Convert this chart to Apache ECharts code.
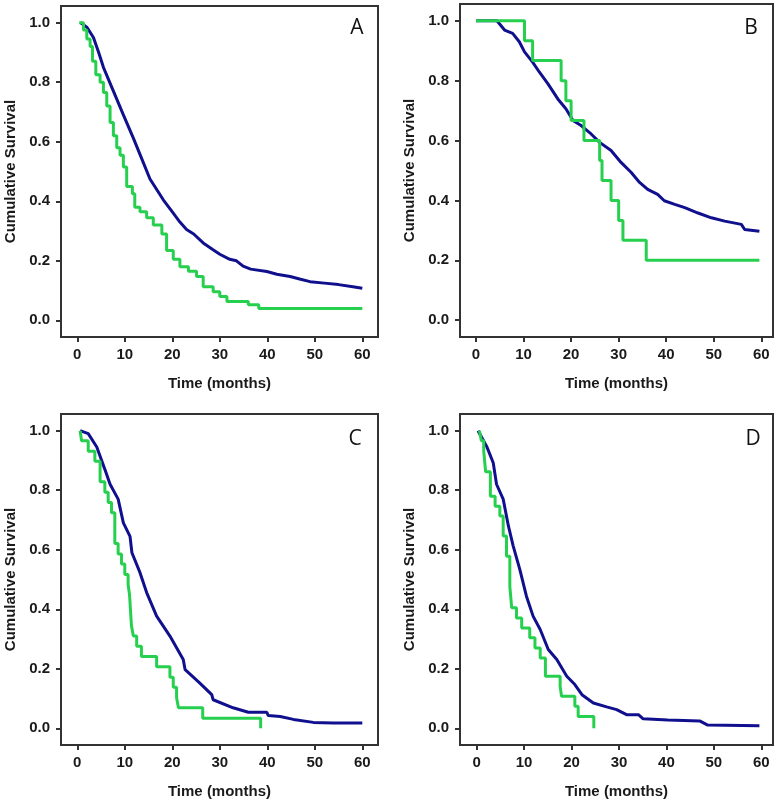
<!DOCTYPE html>
<html>
<head>
<meta charset="utf-8">
<script src="https://cdn.jsdelivr.net/npm/echarts@6/dist/echarts.min.js"></script>
<style>
  html, body { margin: 0; padding: 0; background: #fff; }
  #main { width: 782px; height: 804px; }
</style>
</head>
<body>
<div id="main"></div>
<script>
// survival curves: [time (months), cumulative survival]
const aBlue = [[0.7,1.0],[2.0,0.985],[3.4,0.95],[4.5,0.9],[5.5,0.85],[7.6,0.77],[9.7,0.69],[11.8,0.612],[13.9,0.53],[15.3,0.475],[18.1,0.405],[20.2,0.36],[21.6,0.33],[23.0,0.305],[24.5,0.29],[26.5,0.26],[28.5,0.238],[30.0,0.222],[32.1,0.205],[33.5,0.2],[34.9,0.182],[36.5,0.172],[39.9,0.164],[42,0.155],[44.8,0.147],[47,0.138],[49,0.13],[52,0.125],[55,0.12],[58,0.113],[60,0.108]];
const aGreen = [[0.4,1.0],[1.3,0.975],[2.0,0.945],[2.7,0.92],[3.2,0.87],[3.9,0.825],[4.8,0.80],[5.5,0.765],[6.2,0.72],[6.9,0.665],[7.6,0.62],[8.3,0.58],[9.0,0.555],[9.7,0.515],[10.4,0.45],[11.6,0.425],[12.1,0.38],[13.2,0.365],[14.6,0.345],[16.0,0.32],[17.8,0.29],[18.8,0.235],[20.2,0.205],[21.6,0.18],[23.4,0.165],[25.1,0.147],[26.5,0.113],[28.6,0.096],[30.0,0.08],[31.5,0.063],[36.0,0.052],[38.2,0.04],[60,0.04]];

const bBlue = [[0,1.0],[4.4,1.0],[6.0,0.969],[7.7,0.958],[9.1,0.93],[10.2,0.896],[11.9,0.862],[13.3,0.829],[15.1,0.79],[17.2,0.739],[18.9,0.706],[20.4,0.667],[22.1,0.65],[24.2,0.622],[26.0,0.594],[28.4,0.567],[30.5,0.527],[32.6,0.494],[34.4,0.46],[36.1,0.437],[38.2,0.42],[39.6,0.399],[41.8,0.387],[43.9,0.376],[46.7,0.358],[49.5,0.342],[52.3,0.331],[55.8,0.32],[56.5,0.303],[59.6,0.297]];
const bGreen = [[0,1.0],[10.2,0.933],[11.9,0.867],[17.9,0.8],[18.9,0.733],[20.0,0.667],[22.7,0.6],[26.0,0.533],[26.5,0.467],[28.4,0.4],[30.0,0.333],[30.9,0.267],[35.8,0.2],[59.6,0.2]];

const cBlue = [[0.6,1.0],[2.3,0.99],[4.1,0.945],[5.8,0.87],[6.9,0.82],[8.6,0.77],[9.7,0.69],[11.1,0.645],[11.5,0.59],[13.2,0.523],[14.6,0.456],[16.7,0.377],[19.5,0.31],[22.3,0.231],[22.7,0.197],[25.8,0.152],[28.3,0.113],[28.6,0.096],[32.8,0.069],[36.0,0.054],[39.9,0.054],[40.2,0.043],[42.7,0.04],[45.5,0.03],[49.7,0.02],[53.9,0.018],[60,0.018]];
const cGreen = [[0.6,1.0],[0.9,0.966],[2.3,0.931],[3.7,0.897],[4.8,0.828],[5.8,0.793],[6.5,0.759],[7.2,0.724],[7.9,0.621],[8.6,0.586],[9.3,0.552],[10.0,0.517],[10.7,0.483],[11.0,0.448],[11.4,0.345],[11.8,0.31],[12.5,0.276],[13.5,0.241],[16.7,0.207],[19.5,0.172],[20.2,0.138],[20.9,0.103],[21.3,0.069],[26.4,0.034],[38.6,0.0]];

const dBlue = [[0.3,1.0],[2.1,0.948],[3.5,0.892],[4.2,0.82],[5.6,0.77],[6.7,0.68],[7.7,0.613],[9.1,0.534],[10.5,0.444],[11.9,0.377],[13.4,0.332],[15.1,0.265],[16.9,0.231],[19.0,0.175],[20.7,0.147],[22.2,0.113],[24.6,0.085],[27.4,0.072],[29.5,0.063],[31.6,0.046],[34.1,0.046],[35.1,0.032],[40.3,0.028],[47,0.025],[48.7,0.011],[59.6,0.009]];
const dGreen = [[0.6,1.0],[1.0,0.966],[1.5,0.931],[1.9,0.862],[2.9,0.78],[3.9,0.746],[4.9,0.713],[5.6,0.646],[6.3,0.578],[7.0,0.477],[7.4,0.405],[8.4,0.371],[9.5,0.337],[11.2,0.304],[12.3,0.27],[13.4,0.236],[14.5,0.175],[17.6,0.141],[17.9,0.108],[20.7,0.074],[21.4,0.04],[24.7,0.0]];

const xTicks = [0, 10, 20, 30, 40, 50, 60];
const yTicks = [0, 0.2, 0.4, 0.6, 0.8, 1.0];
const panelLetters = ["A", "B", "C", "D"];

const BLUE = "#10108f";
const GREEN = "#26d04e";
const INK = "#1a1a1a";

const panels = [
  { blue: aBlue, green: aGreen, grid: { left: 61, top: 6, width: 317, height: 331 }, xMin: -3.43, xMax: 63.3, letter: [357, 28] },
  { blue: bBlue, green: bGreen, grid: { left: 460, top: 4, width: 313, height: 333 }, xMin: -3.37, xMax: 62.46, letter: [751, 28] },
  { blue: cBlue, green: cGreen, grid: { left: 61, top: 414, width: 317, height: 331 }, xMin: -3.43, xMax: 63.3, letter: [355, 439] },
  { blue: dBlue, green: dGreen, grid: { left: 460, top: 414, width: 313, height: 331 }, xMin: -3.5, xMax: 62.46, letter: [753, 439] },
];

const labelFont = { fontFamily: "Liberation Sans", fontWeight: "bold", fontSize: 15, color: INK };

const myChart = echarts.init(document.getElementById("main"), null, { renderer: "canvas" });

myChart.setOption({
  animation: false,
  backgroundColor: "#fff",
  grid: panels.map((p) => ({
    ...p.grid,
    show: true,
    borderColor: "#333",
    borderWidth: 2,
    backgroundColor: "transparent",
  })),
  xAxis: panels.map((p, i) => ({
    type: "value",
    gridIndex: i,
    min: p.xMin,
    max: p.xMax,
    name: "Time (months)",
    nameLocation: "middle",
    nameGap: 39,
    nameTextStyle: labelFont,
    // keep the axis on the box edge, not at y = 0
    axisLine: { show: false, onZero: false },
    splitLine: { show: false },
    axisTick: { show: true, customValues: xTicks, length: 5, lineStyle: { color: "#333", width: 2 } },
    axisLabel: { customValues: xTicks, margin: 10, ...labelFont },
  })),
  yAxis: panels.map((p, i) => ({
    type: "value",
    gridIndex: i,
    min: -0.056,
    max: 1.056,
    name: "Cumulative Survival",
    nameLocation: "middle",
    nameGap: 43,
    nameTextStyle: labelFont,
    axisLine: { show: false, onZero: false },
    splitLine: { show: false },
    axisTick: { show: true, customValues: yTicks, length: 5, lineStyle: { color: "#333", width: 2 } },
    axisLabel: { customValues: yTicks, margin: 11, formatter: (v) => v.toFixed(1), ...labelFont },
  })),
  series: panels.flatMap((p, i) => [
    {
      type: "line",
      xAxisIndex: i,
      yAxisIndex: i,
      data: p.blue,
      showSymbol: false,
      lineStyle: { color: BLUE, width: 3 },
      z: 2,
    },
    {
      type: "line",
      xAxisIndex: i,
      yAxisIndex: i,
      data: p.green,
      step: "end",
      showSymbol: false,
      lineStyle: { color: GREEN, width: 3 },
      z: 3,
    },
  ]),
  // panel letters
  graphic: panels.map((p, i) => ({
    type: "text",
    x: p.letter[0],
    y: p.letter[1],
    style: {
      text: panelLetters[i],
      font: "21px 'Open Sans'",
      fill: "#111",
      textAlign: "center",
      textVerticalAlign: "middle",
    },
  })),
});
</script>
</body>
</html>
